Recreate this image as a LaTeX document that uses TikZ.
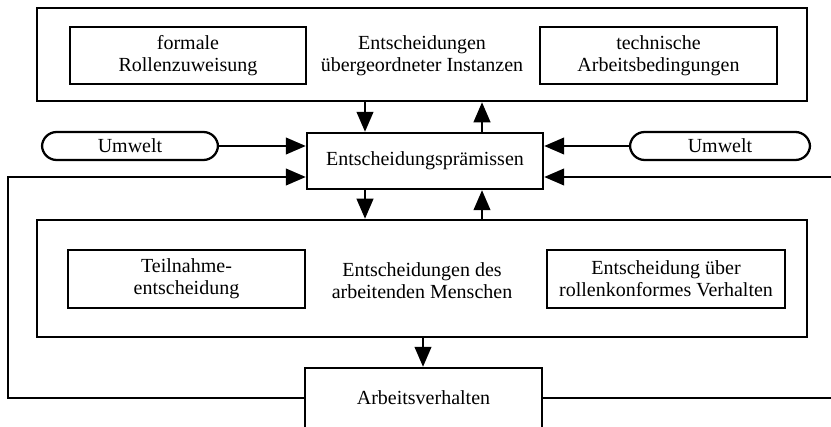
\documentclass[tikz,border=0pt]{standalone}
\usepackage{fontspec}
\setmainfont{Liberation Serif}
\usetikzlibrary{arrows.meta}
\begin{document}
\begin{tikzpicture}[
  x=0.75pt, y=-0.75pt,
  font=\fontsize{15}{16.5}\selectfont,
  size/.style 2 args={minimum width=#1*0.75pt, minimum height=#2*0.75pt},
  box/.style={draw, line width=1.8pt, inner sep=0pt, align=center},
  outer/.style={draw, line width=1.9pt, inner sep=0pt},
  pill/.style={draw, line width=1.7pt, inner sep=0pt, rounded corners=11pt, align=center},
  label/.style={inner sep=0pt, align=center},
  arr/.style={line width=1.5pt, -{Triangle[length=15pt,width=12.5pt]}}
]
\useasboundingbox (0,0) rectangle (831,427);

% upper level: decisions of superior authorities
\node[outer, size={770}{93}] (top) at (422,54.5) {};
\node[box, size={236}{57}] (formal) at (188,55.5) {formale\\Rollenzuweisung};
\node[box, size={237}{57}] (tech) at (658.5,55.5) {technische\\Arbeitsbedingungen};
\node[label] (toptext) at (422,55.5) {Entscheidungen\\übergeordneter Instanzen};

% decision premises and environment
\node[box, size={236}{56}] (praem) at (425,161) {Entscheidungsprämissen};
\node[pill, size={176}{28}] (uml) at (130,146) {Umwelt};
\node[pill, size={180}{28}] (umr) at (720,146) {Umwelt};

% lower level: decisions of the working person
\node[outer, size={770}{117}] (low) at (422,278.5) {};
\node[box, size={237}{58}] (teil) at (186.5,279) {Teilnahme-\\entscheidung};
\node[box, size={238}{58}] (rolle) at (666,279) {Entscheidung über\\rollenkonformes Verhalten};
\node[label] (lowtext) at (422,281) {Entscheidungen des\\arbeitenden Menschen};

% resulting behaviour, its lower edge runs off the page
\node[box, size={237}{62}] (arb) at (423.5,399) {};
\node[label] (arbtext) at (423.5,398) {Arbeitsverhalten};

% reference columns for the vertical connectors
\coordinate (xd) at (365,0);
\coordinate (xu) at (482,0);
\coordinate (xa) at (423,0);
\coordinate (fl) at (8,177);
\coordinate (fr) at (834,177);

% vertical flows
\draw[arr] (top.south -| xd) -- (praem.north -| xd);
\draw[arr] (praem.north -| xu) -- (top.south -| xu);
\draw[arr] (praem.south -| xd) -- (low.north -| xd);
\draw[arr] (low.north -| xu) -- (praem.south -| xu);
\draw[arr] (low.south -| xa) -- (arb.north -| xa);

% environment inputs
\draw[arr] (uml.east) -- (praem.west |- uml.east);
\draw[arr] (umr.west) -- (praem.east |- umr.west);

% feedback loops from the working behaviour
\draw[arr] (arb.west |- arbtext) -| (fl) -- (praem.west |- fl);
\draw[arr] (arb.east |- arbtext) -| (fr) -- (praem.east |- fr);
\end{tikzpicture}
\end{document}
